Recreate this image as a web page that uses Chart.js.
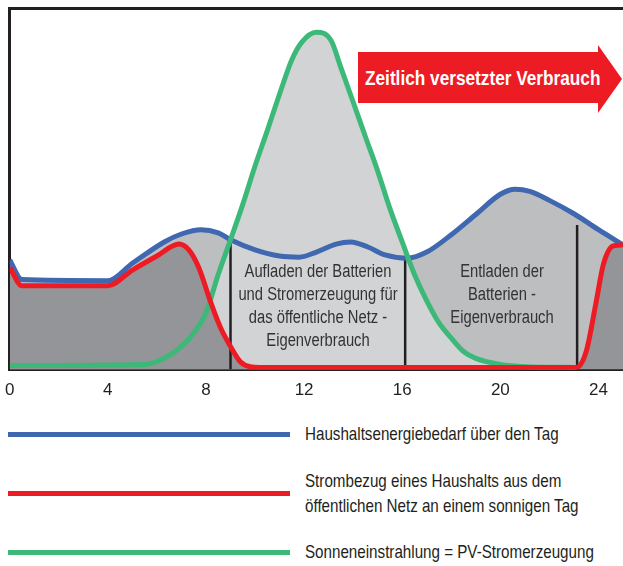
<!DOCTYPE html>
<html>
<head>
<meta charset="utf-8">
<script src="https://cdn.jsdelivr.net/npm/chart.js@4.4.1/dist/chart.umd.min.js"></script>
<style>
    body { margin: 0; background: #fff; width: 623px; height: 566px; overflow: hidden; position: relative;
           font-family: "Liberation Sans", Arial, sans-serif; color: #231f20; }
    #chartBox { position: absolute; left: -6px; top: 0; width: 629px; height: 416px; }
    .note { position: absolute; text-align: center; font-size: 18px; line-height: 23px; color: #333; white-space: nowrap;
            transform: scaleX(0.82); transform-origin: center top; }
    .arrow { position: absolute; left: 358px; top: 45px; width: 264px; height: 68px; background: #ed1c24;
             clip-path: polygon(0 7px, 240px 7px, 240px 0, 264px 34px, 240px 68px, 240px 58px, 0 58px); }
    .arrow span { position: absolute; left: 7px; top: 20px; color: #fff; font-weight: bold; font-size: 21px; line-height: 26px;
                  white-space: nowrap; transform: scaleX(0.82); transform-origin: left top; }
    .lg-line { position: absolute; left: 8px; width: 282px; height: 5px; }
    .lg-text { position: absolute; left: 305px; font-size: 18.5px; line-height: 25px; white-space: nowrap;
               transform: scaleX(0.82); transform-origin: left top; }
</style>
</head>
<body>
<div id="chartBox"><canvas id="energyChart"></canvas></div>

<div class="note" style="left:218px; top:260px; width:200px;">Aufladen der Batterien<br>und Stromerzeugung für<br>das öffentliche Netz -<br>Eigenverbrauch</div>
<div class="note" style="left:427px; top:260px; width:150px;">Entladen der<br>Batterien -<br>Eigenverbrauch</div>
<div class="arrow"><span>Zeitlich versetzter Verbrauch</span></div>

<div class="lg-line" style="top:432px; background:#3f68b0;"></div>
<div class="lg-text" style="top:421px;">Haushaltsenergiebedarf über den Tag</div>
<div class="lg-line" style="top:491px; background:#ed1c24;"></div>
<div class="lg-text" style="top:468px;">Strombezug eines Haushalts aus dem<br>öffentlichen Netz an einem sonnigen Tag</div>
<div class="lg-line" style="top:550px; background:#3cb878;"></div>
<div class="lg-text" style="top:539px;">Sonneneinstrahlung = PV-Stromerzeugung</div>

<script>
// hour of day -> relative power (0..100)
const demandHours = [0, 0.5, 4, 5, 6.3, 7, 7.8, 8.5, 9, 10, 11, 11.8, 12.5, 13.3, 13.9, 14.6, 15.3, 16.2, 17, 18, 19, 20, 20.6, 21.2, 22, 23, 24, 25];
const demandValues = [30.3, 24.9, 24.6, 29.4, 35.3, 37.5, 38.7, 37.8, 35.9, 33.1, 31.4, 31.1, 32.5, 34.7, 35.3, 33.9, 31.7, 30.8, 32.5, 37.3, 42.9, 48.5, 49.9, 49.3, 46.8, 43.1, 38.7, 34.5];

const gridHours = [0, 0.5, 4, 5, 6, 6.9, 7.3, 7.7, 8.2, 8.6, 9.0, 9.4, 9.8, 10.2, 23.1, 23.5, 23.9, 24.2, 24.6, 25];
const gridValues = [28.3, 23.2, 23.2, 27.5, 31.4, 34.7, 33.1, 28.3, 18.5, 11.5, 6.4, 2.2, 0.8, 0.6, 0.6, 5, 18.5, 29.1, 34.2, 34.5];

const solarHours = [0, 5.5, 6, 6.5, 7, 7.5, 8, 8.5, 9, 9.5, 10, 10.5, 11, 11.5, 11.9, 12.5, 13.1, 13.5, 14, 14.5, 15, 15.5, 16, 16.5, 17, 17.5, 18, 18.5, 19, 20, 21, 23.1];
const solarValues = [1.1, 1.4, 2.2, 3.9, 6.4, 10.1, 15.7, 26.3, 35.9, 45.7, 56.3, 66.1, 76.2, 85.7, 90.5, 93.3, 91, 83.5, 74, 64.4, 54.9, 44.5, 35.3, 26.3, 19, 12.9, 8.7, 5, 3.1, 1.4, 0.8, 0.6];

// vertical separators: hour and top value
const dividerHours = [9.0, 16.12, 23.13];
const dividerTops = [35.9, 31.1, 40];

const xTicks = [0, 4, 8, 12, 16, 20, 24];

const toPoints = (xs, ys) => xs.map((x, i) => ({ x: x, y: ys[i] }));

const dividerPoints = [];
dividerHours.forEach((h, i) => {
    dividerPoints.push({ x: h, y: 0 }, { x: h, y: dividerTops[i] }, { x: h, y: null });
});

const ink = '#231f20';

new Chart(document.getElementById('energyChart'), {
    type: 'line',
    data: {
        datasets: [
            {
                label: 'Strombezug eines Haushalts aus dem öffentlichen Netz an einem sonnigen Tag',
                data: toPoints(gridHours, gridValues),
                borderColor: '#ed1c24',
                backgroundColor: '#939598',
                fill: 'origin',
                borderWidth: 5,
                cubicInterpolationMode: 'monotone',
                pointRadius: 0
            },
            {
                label: 'Sonneneinstrahlung = PV-Stromerzeugung',
                data: toPoints(solarHours, solarValues),
                borderColor: '#3cb878',
                backgroundColor: '#d1d3d4',
                fill: 'origin',
                borderWidth: 5,
                cubicInterpolationMode: 'monotone',
                pointRadius: 0
            },
            {
                label: 'Haushaltsenergiebedarf über den Tag',
                data: toPoints(demandHours, demandValues),
                borderColor: '#3f68b0',
                backgroundColor: '#bcbec0',
                fill: 'origin',
                borderWidth: 5,
                cubicInterpolationMode: 'monotone',
                pointRadius: 0
            },
            {
                label: 'dividers',
                data: dividerPoints,
                borderColor: ink,
                borderWidth: 2.5,
                fill: false,
                spanGaps: false,
                pointRadius: 0
            }
        ]
    },
    options: {
        responsive: true,
        maintainAspectRatio: false,
        animation: false,
        layout: { padding: { left: 1, top: 8, right: 0, bottom: 4 } },
        plugins: {
            legend: { display: false },
            tooltip: { enabled: false },
            filler: { drawTime: 'beforeDatasetsDraw' }
        },
        elements: { line: { borderJoinStyle: 'round' } },
        scales: {
            x: {
                type: 'linear',
                min: 0,
                max: 25,
                afterBuildTicks: scale => { scale.ticks = xTicks.map(v => ({ value: v })); },
                grid: { display: false, drawTicks: false },
                border: { display: true, color: ink, width: 3 },
                ticks: {
                    color: ink,
                    padding: 11,
                    font: { family: '"Liberation Sans", Arial, sans-serif', size: 17 }
                }
            },
            y: {
                min: 0,
                max: 100,
                afterBuildTicks: scale => { scale.ticks = [{ value: 0 }, { value: 100 }]; },
                grid: {
                    drawTicks: false,
                    lineWidth: 3,
                    color: ctx => (ctx.tick && ctx.tick.value === 100) ? ink : 'rgba(0,0,0,0)'
                },
                border: { display: true, color: ink, width: 3 },
                ticks: { display: false, padding: 0 }
            }
        }
    }
});
</script>
</body>
</html>
